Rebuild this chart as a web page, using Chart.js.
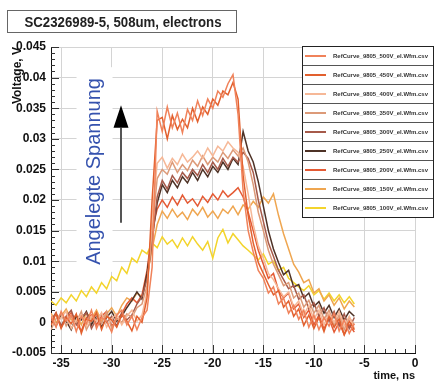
<!DOCTYPE html>
<html>
<head>
<meta charset="utf-8">
<script src="https://cdn.jsdelivr.net/npm/chart.js@4"></script>
<style>
  html, body { margin: 0; padding: 0; background: #fff; }
  #wrap { width: 435px; height: 383px; }
</style>
</head>
<body>
<div id="wrap"><canvas id="scope"></canvas></div>
<script>
// time axis, ns
const time = [-36, -35.5, -35, -34.5, -34, -33.5, -33, -32.5, -32, -31.5,
  -31, -30.5, -30, -29.5, -29, -28.5, -28, -27.5, -27, -26.5,
  -26, -25.5, -25, -24.5, -24, -23.5, -23, -22.5, -22, -21.5,
  -21, -20.5, -20, -19.5, -19, -18.5, -18, -17.5, -17, -16.5,
  -16, -15.5, -15, -14.5, -14, -13.5, -13, -12.5, -12, -11.5,
  -11, -10.5, -10, -9.5, -9, -8.5, -8, -7.5, -7, -6.5, -6];

// voltage, V
const v500 = [0.0010, -0.0008, 0.0018, 0.0002, 0.0012, -0.0015, 0.0010, -0.0002, 0.0020, -0.0010,
  0.0008, 0.0002, -0.0016, 0.0012, 0.0020, -0.0004, 0.0010, -0.0012, 0.0008, 0.0020,
  0.0090, 0.0345, 0.0312, 0.0352, 0.0318, 0.0342, 0.0310, 0.0348, 0.0330, 0.0362,
  0.0338, 0.0365, 0.0350, 0.0378, 0.0368, 0.0390, 0.0405, 0.0340, 0.0215, 0.0150,
  0.0115, 0.0085, 0.0072, 0.0048, 0.0058, 0.0030, 0.0040, 0.0015, 0.0028, 0.0005,
  0.0020, -0.0008, 0.0012, -0.0012, 0.0008, -0.0006, 0.0015, -0.0014, 0.0004, -0.0018, -0.0002];
const v450 = [-0.0005, 0.0015, -0.0010, 0.0008, -0.0002, 0.0014, -0.0018, 0.0006, 0.0002, 0.0016,
  -0.0012, 0.0010, 0.0004, -0.0008, 0.0012, 0.0002, -0.0014, 0.0010, 0.0000, 0.0040,
  0.0200, 0.0330, 0.0335, 0.0300, 0.0338, 0.0315, 0.0332, 0.0318, 0.0350, 0.0328,
  0.0352, 0.0340, 0.0365, 0.0355, 0.0378, 0.0372, 0.0392, 0.0365, 0.0240, 0.0175,
  0.0130, 0.0098, 0.0080, 0.0062, 0.0045, 0.0052, 0.0025, 0.0035, 0.0010, 0.0022,
  -0.0005, 0.0012, -0.0010, 0.0008, -0.0015, 0.0010, -0.0008, 0.0006, -0.0020, 0.0002, -0.0012];
const v400 = [0.0012, -0.0004, 0.0008, 0.0018, -0.0010, 0.0004, 0.0012, -0.0006, 0.0010, 0.0002,
  0.0016, -0.0008, 0.0006, 0.0014, -0.0004, 0.0010, 0.0020, 0.0002, 0.0012, 0.0050,
  0.0170, 0.0260, 0.0270, 0.0252, 0.0268, 0.0258, 0.0275, 0.0262, 0.0270, 0.0280,
  0.0268, 0.0285, 0.0272, 0.0288, 0.0280, 0.0295, 0.0285, 0.0278, 0.0255, 0.0210,
  0.0160, 0.0125, 0.0105, 0.0080, 0.0070, 0.0055, 0.0042, 0.0050, 0.0025, 0.0035,
  0.0012, 0.0028, 0.0005, 0.0020, -0.0004, 0.0015, 0.0000, 0.0018, -0.0006, 0.0010, -0.0010];
const v350 = [-0.0012, 0.0006, 0.0014, -0.0006, 0.0010, 0.0000, 0.0018, -0.0012, 0.0004, 0.0012,
  -0.0002, 0.0018, -0.0010, 0.0006, 0.0000, 0.0014, 0.0008, 0.0024, 0.0030, 0.0060,
  0.0150, 0.0235, 0.0250, 0.0242, 0.0262, 0.0245, 0.0258, 0.0248, 0.0265, 0.0255,
  0.0272, 0.0258, 0.0270, 0.0262, 0.0278, 0.0268, 0.0282, 0.0272, 0.0285, 0.0262,
  0.0225, 0.0180, 0.0150, 0.0118, 0.0095, 0.0078, 0.0060, 0.0065, 0.0040, 0.0048,
  0.0025, 0.0036, 0.0015, 0.0028, 0.0005, 0.0020, -0.0005, 0.0012, -0.0012, 0.0008, -0.0004];
const v300 = [0.0004, 0.0016, -0.0006, 0.0010, 0.0020, -0.0004, 0.0008, 0.0016, -0.0010, 0.0006,
  0.0014, 0.0000, 0.0010, -0.0006, 0.0016, 0.0004, 0.0012, 0.0030, 0.0042, 0.0070,
  0.0130, 0.0205, 0.0232, 0.0218, 0.0240, 0.0228, 0.0245, 0.0235, 0.0250, 0.0240,
  0.0258, 0.0245, 0.0262, 0.0250, 0.0268, 0.0255, 0.0270, 0.0262, 0.0278, 0.0268,
  0.0245, 0.0200, 0.0165, 0.0130, 0.0108, 0.0085, 0.0070, 0.0055, 0.0060, 0.0038,
  0.0045, 0.0022, 0.0032, 0.0010, 0.0024, 0.0002, 0.0018, -0.0006, 0.0014, -0.0010, 0.0008];
const v250 = [0.0010, -0.0006, 0.0012, 0.0002, -0.0012, 0.0010, 0.0004, 0.0018, -0.0004, 0.0012,
  -0.0008, 0.0008, 0.0018, 0.0002, 0.0010, 0.0024, 0.0036, 0.0050, 0.0038, 0.0080,
  0.0140, 0.0195, 0.0225, 0.0212, 0.0232, 0.0220, 0.0238, 0.0228, 0.0245, 0.0232,
  0.0250, 0.0238, 0.0255, 0.0245, 0.0262, 0.0250, 0.0268, 0.0258, 0.0312, 0.0280,
  0.0262, 0.0230, 0.0190, 0.0150, 0.0120, 0.0098, 0.0078, 0.0085, 0.0058, 0.0062,
  0.0040, 0.0048, 0.0026, 0.0034, 0.0015, 0.0028, 0.0008, 0.0022, 0.0004, 0.0018, 0.0010];
const v200 = [0.0002, 0.0014, -0.0008, 0.0006, 0.0016, -0.0002, -0.0014, 0.0008, 0.0012, -0.0004,
  0.0010, 0.0018, -0.0006, 0.0004, 0.0014, 0.0030, 0.0040, 0.0032, 0.0045, 0.0085,
  0.0150, 0.0185, 0.0200, 0.0188, 0.0205, 0.0192, 0.0208, 0.0195, 0.0202, 0.0190,
  0.0206, 0.0196, 0.0210, 0.0200, 0.0215, 0.0205, 0.0212, 0.0220, 0.0205, 0.0180,
  0.0150, 0.0118, 0.0095, 0.0072, 0.0080, 0.0052, 0.0040, 0.0048, 0.0022, 0.0030,
  0.0008, 0.0020, -0.0004, 0.0012, -0.0010, 0.0006, -0.0016, 0.0000, -0.0020, -0.0004, -0.0016];
const v150 = [0.0015, 0.0000, 0.0010, 0.0022, 0.0004, 0.0012, -0.0004, 0.0016, 0.0006, 0.0020,
  0.0002, 0.0014, 0.0024, 0.0010, 0.0028, 0.0040, 0.0035, 0.0048, 0.0042, 0.0075,
  0.0120, 0.0160, 0.0182, 0.0170, 0.0185, 0.0172, 0.0180, 0.0168, 0.0185, 0.0175,
  0.0188, 0.0172, 0.0182, 0.0170, 0.0185, 0.0178, 0.0190, 0.0176, 0.0192, 0.0185,
  0.0198, 0.0188, 0.0205, 0.0195, 0.0210, 0.0175, 0.0145, 0.0120, 0.0095, 0.0082,
  0.0065, 0.0070, 0.0048, 0.0055, 0.0035, 0.0045, 0.0028, 0.0040, 0.0022, 0.0035, 0.0025];
const v100 = [0.0035, 0.0028, 0.0040, 0.0032, 0.0045, 0.0035, 0.0052, 0.0042, 0.0058, 0.0048,
  0.0065, 0.0055, 0.0075, 0.0068, 0.0090, 0.0080, 0.0105, 0.0098, 0.0118, 0.0112,
  0.0130, 0.0122, 0.0140, 0.0128, 0.0135, 0.0122, 0.0138, 0.0125, 0.0140, 0.0128,
  0.0118, 0.0132, 0.0105, 0.0138, 0.0152, 0.0130, 0.0145, 0.0135, 0.0125, 0.0118,
  0.0110, 0.0102, 0.0112, 0.0095, 0.0100, 0.0085, 0.0090, 0.0072, 0.0065, 0.0058,
  0.0052, 0.0060, 0.0045, 0.0052, 0.0038, 0.0048, 0.0035, 0.0045, 0.0032, 0.0042, 0.0030];

const biasVolts = [500, 450, 400, 350, 300, 250, 200, 150, 100];
const seriesValues = [v500, v450, v400, v350, v300, v250, v200, v150, v100];
const seriesColors = ['#f0825a', '#e2602e', '#f6b897', '#dc9a78', '#a65a4a',
  '#4e3226', '#e45a34', '#efa650', '#f3d42c'];

const xTicks = [-35, -30, -25, -20, -15, -10, -5, 0];
const yTicks = [-0.005, 0, 0.005, 0.01, 0.015, 0.02, 0.025, 0.03, 0.035, 0.04, 0.045];

const FONT = '"Liberation Sans", Arial, sans-serif';

const datasets = seriesValues.map((vals, i) => ({
  label: 'RefCurve_9805_' + biasVolts[i] + 'V_el.Wfm.csv',
  data: vals.map((v, k) => ({ x: time[k], y: v })),
  borderColor: seriesColors[i],
  backgroundColor: seriesColors[i],
  borderWidth: 1.5,
  pointRadius: 0,
  tension: 0
}));

// white page + title box
const pageDecor = {
  id: 'pageDecor',
  beforeDraw(chart) {
    const ctx = chart.ctx;
    ctx.save();
    ctx.fillStyle = '#fff';
    ctx.fillRect(0, 0, chart.width, chart.height);
    ctx.fillStyle = '#fff';
    ctx.strokeStyle = '#666';
    ctx.lineWidth = 1;
    ctx.fillRect(7.5, 10.5, 229, 22);
    ctx.strokeRect(7.5, 10.5, 229, 22);
    ctx.fillStyle = '#222';
    ctx.font = 'bold 14px ' + FONT;
    ctx.textAlign = 'center';
    ctx.textBaseline = 'alphabetic';
    ctx.fillText('SC2326989-5, 508um, electrons', 123, 26.5, 197);
    ctx.restore();
  }
};

// ROOT style ticks inside the frame, plus the arrow annotation
const innerTicks = {
  id: 'innerTicks',
  beforeDatasetsDraw(chart) {
    const { ctx, chartArea: a, scales: { x, y } } = chart;
    ctx.save();
    ctx.strokeStyle = '#333';
    ctx.lineWidth = 1;
    ctx.beginPath();
    for (let v = -36; v <= 0; v++) {
      const px = Math.round(x.getPixelForValue(v)) + 0.5;
      const len = v % 5 === 0 ? 8 : 4;
      ctx.moveTo(px, a.bottom);
      ctx.lineTo(px, a.bottom - len);
    }
    for (let k = -5; k <= 45; k++) {
      const py = Math.round(y.getPixelForValue(k / 1000)) + 0.5;
      const len = k % 5 === 0 ? 8 : 4;
      ctx.moveTo(a.left, py);
      ctx.lineTo(a.left + len, py);
    }
    ctx.stroke();

    // "Angelegte Spannung" label on a white strip
    const tx = x.getPixelForValue(-31.2);
    const ty = y.getPixelForValue(0.0094);
    ctx.fillStyle = '#fff';
    ctx.fillRect(tx - 23, y.getPixelForValue(0.0417), 36, ty - y.getPixelForValue(0.0417) + 7);
    ctx.translate(tx, ty);
    ctx.rotate(-Math.PI / 2);
    ctx.fillStyle = '#3552ae';
    ctx.font = '20px ' + FONT;
    ctx.textAlign = 'left';
    ctx.textBaseline = 'alphabetic';
    ctx.fillText('Angelegte Spannung', 0, 0);
    ctx.setTransform(1, 0, 0, 1, 0, 0);

    const ax = Math.round(x.getPixelForValue(-29.1));
    const yBot = y.getPixelForValue(0.0163);
    const yTip = y.getPixelForValue(0.0355);
    const yBase = y.getPixelForValue(0.0318);
    ctx.strokeStyle = '#555';
    ctx.lineWidth = 2;
    ctx.beginPath();
    ctx.moveTo(ax, yBot);
    ctx.lineTo(ax, yBase);
    ctx.stroke();
    ctx.fillStyle = '#000';
    ctx.beginPath();
    ctx.moveTo(ax, yTip);
    ctx.lineTo(ax - 7.5, yBase);
    ctx.lineTo(ax + 7.5, yBase);
    ctx.closePath();
    ctx.fill();
    ctx.restore();
  }
};

// boxed legend and rotated y title
const boxLegend = {
  id: 'boxLegend',
  afterDraw(chart) {
    const ctx = chart.ctx;
    const left = 302.5, right = 433.5, top = 46.5, rowH = 19;
    const n = chart.data.datasets.length;
    ctx.save();
    ctx.fillStyle = '#fff';
    ctx.fillRect(left, top, right - left, rowH * n);
    ctx.strokeStyle = '#555';
    ctx.lineWidth = 1;
    ctx.beginPath();
    for (let i = 1; i < n; i++) {
      ctx.moveTo(left, top + rowH * i);
      ctx.lineTo(right, top + rowH * i);
    }
    ctx.stroke();
    ctx.strokeStyle = '#222';
    ctx.strokeRect(left, top, right - left, rowH * n);
    ctx.font = 'bold 6px ' + FONT;
    ctx.textAlign = 'left';
    ctx.textBaseline = 'middle';
    chart.data.datasets.forEach((ds, i) => {
      const cy = top + rowH * i + rowH / 2;
      ctx.strokeStyle = ds.borderColor;
      ctx.lineWidth = 2;
      ctx.beginPath();
      ctx.moveTo(305, cy);
      ctx.lineTo(326, cy);
      ctx.stroke();
      ctx.fillStyle = '#333';
      ctx.fillText(ds.label, 333, cy + 0.5, 95);
    });

    ctx.translate(21, 47);
    ctx.rotate(-Math.PI / 2);
    ctx.fillStyle = '#111';
    ctx.font = 'bold 12px ' + FONT;
    ctx.textAlign = 'right';
    ctx.textBaseline = 'alphabetic';
    ctx.fillText('Voltage, V', 0, 0);
    ctx.restore();
  }
};

new Chart(document.getElementById('scope'), {
  type: 'line',
  data: { datasets },
  options: {
    responsive: true,
    maintainAspectRatio: false,
    animation: false,
    events: [],
    layout: { padding: { left: 0, right: 20, top: 47, bottom: 0 } },
    plugins: {
      legend: { display: false },
      title: { display: false },
      tooltip: { enabled: false }
    },
    scales: {
      x: {
        type: 'linear',
        min: -36,
        max: 0,
        afterFit(scale) { scale.height = 30; },
        afterBuildTicks(scale) { scale.ticks = xTicks.map(v => ({ value: v })); },
        grid: { color: '#d4d4d4', lineWidth: 1, drawTicks: false },
        border: { display: true, color: '#111', width: 1 },
        ticks: {
          padding: 3,
          color: '#111',
          font: { family: FONT, size: 12, weight: 'bold' },
          maxRotation: 0,
          callback: v => String(v)
        },
        title: {
          display: true,
          text: 'time, ns',
          align: 'end',
          color: '#111',
          padding: 0,
          font: { family: FONT, size: 11, weight: 'bold' }
        }
      },
      y: {
        min: -0.005,
        max: 0.045,
        afterFit(scale) { scale.width = 51; },
        afterBuildTicks(scale) { scale.ticks = yTicks.map(v => ({ value: v })); },
        grid: { color: '#d4d4d4', lineWidth: 1, drawTicks: false },
        border: { display: true, color: '#111', width: 1 },
        ticks: {
          padding: 5,
          color: '#111',
          font: { family: FONT, size: 12, weight: 'bold' },
          callback: v => String(Number(v.toFixed(3)))
        }
      }
    }
  },
  plugins: [pageDecor, innerTicks, boxLegend]
});
</script>
</body>
</html>
